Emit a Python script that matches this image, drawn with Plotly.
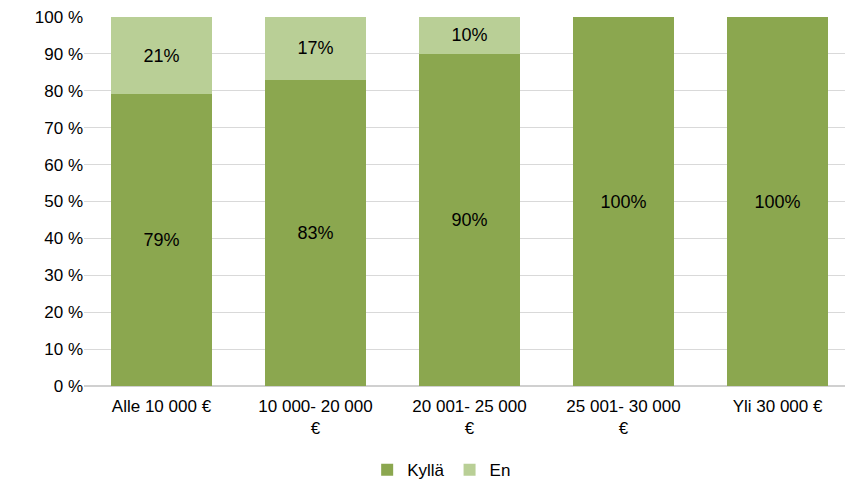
import plotly.graph_objects as go

categories = ["Alle 10 000 €", "10 000- 20 000<br>€", "20 001- 25 000<br>€",
              "25 001- 30 000<br>€", "Yli 30 000 €"]
kylla = [79, 83, 90, 100, 100]
en = [21, 17, 10, 0, 0]
y_ticks = list(range(0, 101, 10))

dark = "#8BA74F"
light = "#B9CF96"
font = "Liberation Sans, Arial, sans-serif"

fig = go.Figure()
fig.add_trace(go.Bar(
    x=categories, y=kylla, name="Kyllä", marker=dict(color=dark, line=dict(width=0)),
    text=[f"{v}%" for v in kylla], textposition="inside",
    insidetextanchor="middle", textfont=dict(size=18, color="#000000", family=font),
))
fig.add_trace(go.Bar(
    x=categories, y=en, name="En", marker=dict(color=light, line=dict(width=0)),
    text=[f"{v}%" if v else "" for v in en], textposition="inside",
    insidetextanchor="middle", textfont=dict(size=18, color="#000000", family=font),
))

fig.update_layout(
    barmode="stack",
    bargap=0.344,
    width=849, height=488,
    margin=dict(l=84, r=4, t=17, b=102, autoexpand=False),
    plot_bgcolor="white", paper_bgcolor="white",
    font=dict(family=font, size=17, color="#000000"),
    uniformtext=dict(mode="show", minsize=10),
    legend=dict(orientation="h", x=0.47, xanchor="center", y=-0.228, yanchor="middle",
                font=dict(size=17), itemwidth=30, traceorder="normal"),
    showlegend=True,
)
fig.update_xaxes(showline=False, ticks="", tickfont=dict(size=17),
                 range=[-0.503, 4.438],
                 automargin=False, ticklabelstandoff=8)
fig.update_yaxes(range=[0, 100], tickvals=y_ticks, ticktext=[f"{v} %" for v in y_ticks],
                 showgrid=True, gridcolor="#D9D9D9", gridwidth=1, zeroline=True,
                 zerolinecolor="#D0D0D0", ticks="", tickfont=dict(size=17),
                 automargin=False)

fig.write_html("out.html")
